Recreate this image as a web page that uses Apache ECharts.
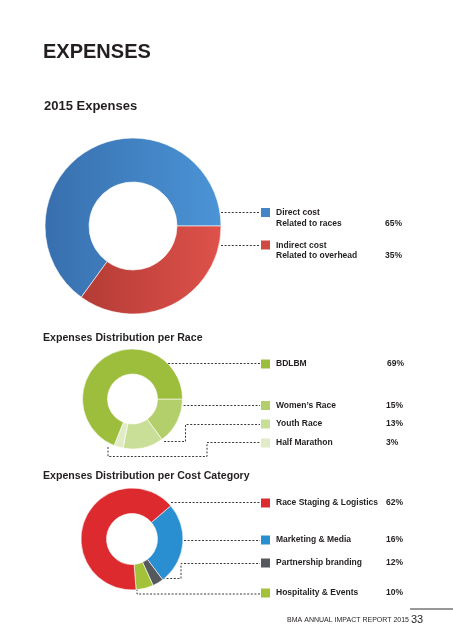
<!DOCTYPE html>
<html>
<head>
<meta charset="utf-8">
<script src="https://cdn.jsdelivr.net/npm/echarts@6/dist/echarts.min.js"></script>
<style>
  html, body { margin: 0; padding: 0; background: #fff; }
  #chart { width: 453px; height: 640px; }
</style>
</head>
<body>
<div id="chart"></div>
<script>
// ---- Data ----
const pageTitle = 'EXPENSES';
const chart1Title = '2015 Expenses';
const chart2Title = 'Expenses Distribution per Race';
const chart3Title = 'Expenses Distribution per Cost Category';

const totalNames = [['Direct cost', 'Related to races'], ['Indirect cost', 'Related to overhead']];
const totalValues = [65, 35];

const raceNames = ['BDLBM', 'Women\u2019s Race', 'Youth Race', 'Half Marathon'];
const raceValues = [69, 15, 13, 3];

const costNames = ['Race Staging & Logistics', 'Marketing & Media', 'Partnership branding', 'Hospitality & Events'];
const costPrinted = [62, 16, 12, 10];      // percentages printed in the legend
const costDrawn = [65, 26, 3.5, 5.5];      // arc sizes as drawn in the donut

const footerText = 'BMA ANNUAL IMPACT REPORT 2015';
const pageNumber = '33';

// ---- Styles ----
const TXT = '#231f20';
const FONT = '"Liberation Sans", Arial, sans-serif';
const totalColorsFlat = ['#4385c6', '#cf4a42'];
const raceColors = ['#9dbe3c', '#b2cf6b', '#c9de97', '#e1ebc6'];
const costColors = ['#dc2a2e', '#2a8fd0', '#55595d', '#a3c23a'];

const chart = echarts.init(document.getElementById('chart'), null, { renderer: 'canvas' });

const blueGrad = new echarts.graphic.LinearGradient(45, 0, 221, 0, [
  { offset: 0, color: '#386fae' }, { offset: 1, color: '#4b94d6' }], true);
const redGrad = new echarts.graphic.LinearGradient(45, 0, 221, 0, [
  { offset: 0, color: '#a93530' }, { offset: 1, color: '#de524a' }], true);

function pie(center, radius, data, startAngle, clockwise) {
  return {
    type: 'pie', center: center, radius: radius, startAngle: startAngle, clockwise: clockwise,
    label: { show: false }, labelLine: { show: false }, silent: true,
    itemStyle: { borderColor: '#ffffff', borderWidth: 0.6 },
    data: data
  };
}

// order for drawing
const pie1Data = [
  { value: totalValues[0], itemStyle: { color: blueGrad } },
  { value: totalValues[1], itemStyle: { color: redGrad } }
];
const raceOrder = [1, 2, 3, 0];
const pie2Data = raceOrder.map(i => ({ value: raceValues[i], itemStyle: { color: raceColors[i] } }));
const costOrder = [1, 2, 3, 0];
const pie3Data = costOrder.map(i => ({ value: costDrawn[i], itemStyle: { color: costColors[i] } }));

// ---- Graphics ----
const g = [];
function text(x, y, str, size, weight, opts) {
  g.push(Object.assign({
    type: 'text', x: x, y: y, silent: true,
    style: { text: str, font: weight + ' ' + size + 'px ' + FONT, fill: TXT, verticalAlign: 'middle', align: 'left' }
  }, opts || {}));
}
function dashed(points) {
  g.push({ type: 'polyline', silent: true, shape: { points: points },
    style: { stroke: '#3a3a3a', lineWidth: 1, lineDash: [2, 1.6], fill: null } });
}
function square(y, color) {
  g.push({ type: 'rect', silent: true, shape: { x: 261, y: y - 4.5, width: 9, height: 9 }, style: { fill: color } });
}

text(43, 52, pageTitle, 20, 'bold');
text(44, 106, chart1Title, 13, 'bold');
text(43, 338.5, chart2Title, 10.6, 'bold');
text(43, 476.5, chart3Title, 10.6, 'bold');

// chart 1 legend
const c1Y = [212.5, 245];
c1Y.forEach((y, i) => {
  square(y, totalColorsFlat[i]);
  text(276, y + 0.5, totalNames[i][0], 8.5, 'bold');
  text(276, y + 10.8, totalNames[i][1], 8.5, 'bold');
  text(385, y + 10.8, totalValues[i] + '%', 8.5, 'bold');
});
dashed([[221, 212.5], [260, 212.5]]);
dashed([[221, 245.5], [260, 245.5]]);

// chart 2 legend
const c2Y = [364, 405.5, 424, 443];
c2Y.forEach((y, i) => {
  square(y, raceColors[i]);
  text(276, y, raceNames[i], 8.5, 'bold');
  text(i === 0 ? 387 : 386, y, raceValues[i] + '%', 8.5, 'bold');
});
dashed([[168, 363.5], [260, 363.5]]);
dashed([[180, 405.5], [260, 405.5]]);
dashed([[164, 441.5], [185.5, 441.5], [185.5, 424.5], [260, 424.5]]);
dashed([[108, 447], [108, 456.5], [207, 456.5], [207, 442.5], [260, 442.5]]);

// chart 3 legend
const c3Y = [503, 540, 563, 593];
c3Y.forEach((y, i) => {
  square(y, costColors[i]);
  text(276, y, costNames[i], 8.5, 'bold');
  text(386, y, costPrinted[i] + '%', 8.5, 'bold');
});
dashed([[171, 502.5], [260, 502.5]]);
dashed([[184, 540.5], [260, 540.5]]);
dashed([[163, 578.5], [181, 578.5], [181, 563.5], [260, 563.5]]);
dashed([[137, 589], [137, 594], [260, 594]]);

// footer
g.push({ type: 'line', silent: true, shape: { x1: 410, y1: 609, x2: 453, y2: 609 }, style: { stroke: '#333', lineWidth: 1 } });
text(409, 620.5, footerText, 7, 'normal', { style: { text: footerText, font: 'normal 7px ' + FONT, fill: TXT, verticalAlign: 'middle', align: 'right' } });
text(411, 620, pageNumber, 11, 'normal');

chart.setOption({
  animation: false,
  backgroundColor: '#ffffff',
  series: [
    pie([133, 226], [44, 88], pie1Data, 0, false),
    pie([132.5, 399], [25, 50], pie2Data, 0, true),
    pie([132, 539], [25.5, 51], pie3Data, 40.6, true)
  ],
  graphic: g
});
</script>
</body>
</html>
